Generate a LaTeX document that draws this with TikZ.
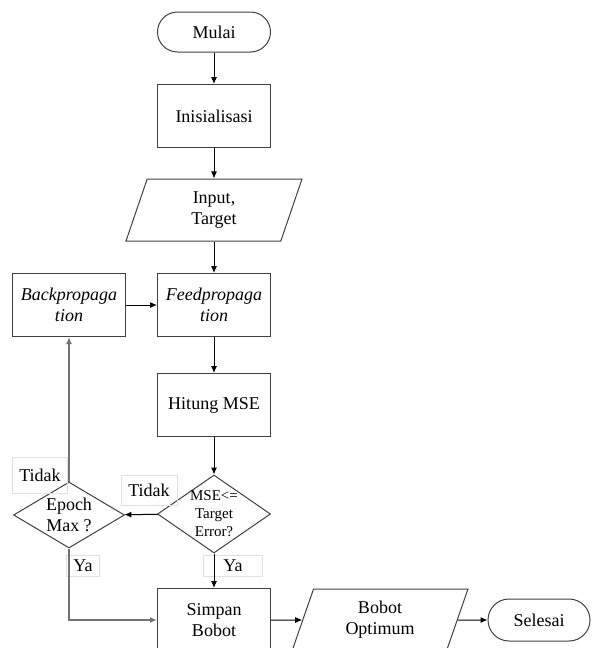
\documentclass[tikz,border=0pt]{standalone}
\usepackage{fontspec}
\setmainfont{Liberation Serif}
\usetikzlibrary{shapes.geometric,shapes.misc,arrows.meta}

\begin{document}
\begin{tikzpicture}[x=1pt, y=-1pt,
    every node/.style={font=\fontsize{18}{21}\selectfont, align=center},
    terminal/.style={draw=black!75, line width=1pt, rounded rectangle, minimum width=113pt, minimum height=40pt, inner sep=0pt},
    process/.style={draw=black!75, line width=1pt, rectangle, minimum width=113pt, minimum height=63pt, inner sep=0pt},
    data/.style={draw=black!75, line width=1pt, trapezium, trapezium left angle=60, trapezium right angle=120, trapezium stretches body, minimum width=176pt, minimum height=62pt, inner sep=0pt},
    decision/.style={draw=black!75, line width=1pt, diamond, inner xsep=-6pt, inner ysep=-9pt},
    answer/.style={draw=black!12, line width=0.8pt, inner sep=0pt},
    flow/.style={line width=1pt, -{Latex[length=7pt,width=6pt]}},
    loopflow/.style={flow, draw=black!55, line width=1.4pt}]
      \useasboundingbox (0,0) rectangle (592,648);
      \node[terminal] (mulai) at (214, 32) {Mulai};
      \node[process] (init) at (214, 116) {Inisialisasi};
      \node[data] (input) at (214, 210) {Input,\\Target};
      \node[process] (feed) at (214, 305) {\itshape Feedpropaga\\\itshape tion};
      \node[process] (back) at (69, 305) {\itshape Backpropaga\\\itshape tion};
      \node[process] (hitung) at (214, 405) {Hitung MSE};
      \node[decision, minimum width=113pt, minimum height=78pt, font=\fontsize{15}{18}\selectfont] (mse) at (214, 514) {MSE<=\\Target\\Error?};
      \node[decision, minimum width=111pt, minimum height=66pt] (epoch) at (69, 515) {Epoch\\Max ?};
      \node[process] (simpan) at (214, 620) {Simpan\\Bobot};
      \node[data] (optimum) at (380, 620) {Bobot\\Optimum};
      \node[terminal, minimum width=102pt, minimum height=42pt] (selesai) at (539, 620) {Selesai};
      % jawaban
      \node[answer, minimum width=55pt, minimum height=36pt] (tidak1) at (40, 475) {Tidak};
      \node[answer, minimum width=56pt, minimum height=30pt] (tidak2) at (149, 490) {Tidak};
      \node[answer, minimum width=33pt, minimum height=21pt] (ya1) at (83, 566) {Ya};
      \node[answer, minimum width=59pt, minimum height=21pt] (ya2) at (233, 566) {Ya};
      % alur
      \draw[flow] (mulai) -- (init);
      \draw[flow] (init) -- (input);
      \draw[flow] (input) -- (feed);
      \draw[flow] (back) -- (feed);
      \draw[flow] (feed) -- (hitung);
      \draw[flow] (hitung) -- (mse);
      \draw[flow] (mse) -- (epoch);
      \draw[flow] (mse) -- (simpan);
      \draw[loopflow] (epoch) -- (back);
      \draw[loopflow] (epoch.south) |- (simpan.west);
      \draw[flow] (simpan) -- (optimum);
      \draw[flow] (optimum) -- (selesai);
\end{tikzpicture}
\end{document}
